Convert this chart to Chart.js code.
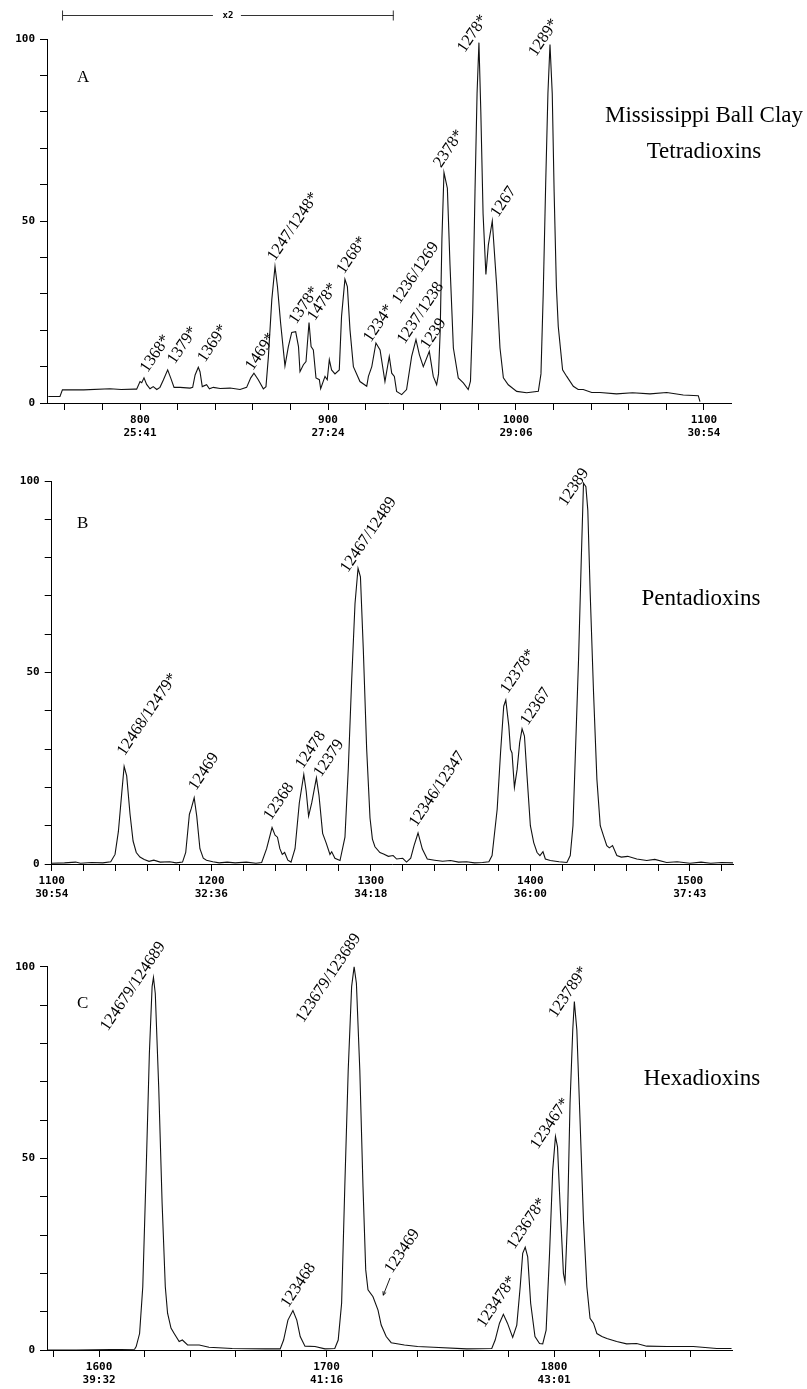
<!DOCTYPE html>
<html>
<head>
<meta charset="utf-8">
<script src="https://cdn.jsdelivr.net/npm/chart.js@4.4.1/dist/chart.umd.min.js"></script>
<style>
    body { margin: 0; background: #fff; width: 807px; height: 1389px; position: relative; overflow: hidden; }
    canvas { position: absolute; left: 0; }
    .t { position: absolute; font-family: "Liberation Serif", "Times New Roman", serif; color: #000; line-height: 1; white-space: nowrap; }
    .c { width: 400px; text-align: center; font-size: 23px; }
    .p { font-size: 17px; }
</style>
</head>
<body>

<canvas id="chartA" style="top:0px;width:807px;height:455px" width="807" height="455"></canvas>
<canvas id="chartB" style="top:455px;width:807px;height:470px" width="807" height="470"></canvas>
<canvas id="chartC" style="top:925px;width:807px;height:464px" width="807" height="464"></canvas>

<div class="t p" style="left:77px;top:67.5px">A</div>
<div class="t c" style="left:504px;top:103.4px">Mississippi Ball Clay</div>
<div class="t c" style="left:504px;top:139px">Tetradioxins</div>
<div class="t p" style="left:77px;top:514px">B</div>
<div class="t c" style="left:501px;top:585.7px">Pentadioxins</div>
<div class="t p" style="left:77px;top:994px">C</div>
<div class="t c" style="left:502px;top:1065.7px">Hexadioxins</div>

<script>
// panel A - tetradioxins (scan nr, relative intensity)
let scansA = [751.2, 757.4, 758.7, 770, 784, 790, 797, 798.2, 800, 800.9,
    802.1, 803.5, 805.3, 807, 808.9, 810.6, 812.4, 814.7, 816.3, 818.1,
    821.3, 826.6, 828, 829.3, 831, 831.9, 833.1, 835.4, 836.9, 839,
    842.6, 847.9, 853.2, 856.7, 858.9, 860.6, 862.9, 865.6, 867, 868.3,
    870.1, 871.8, 873.1, 874.8, 877.1, 878.9, 880.7, 882.8, 884.3, 885.1,
    886.9, 888.3, 889.9, 891, 892.2, 893.6, 895.4, 896.1, 898.4, 899.6,
    900.7, 901.9, 903.7, 906, 907.2, 909, 910.3, 911.7, 913.5, 917,
    920.6, 921.5, 923.3, 925.5, 927.7, 930.3, 932.6, 933.9, 935.3, 936.5,
    939.2, 941.8, 944.5, 946.8, 948.6, 950.7, 953.9, 956, 957.8, 958.8,
    959.7, 960.6, 961.7, 963.5, 964.9, 966.7, 969.3, 972, 974.6, 975.8,
    977, 978.2, 979.3, 980.3, 981.3, 982.5, 984, 985.3, 987.4, 989.7,
    991.5, 993.3, 995.9, 1000.4, 1005.7, 1011.9, 1013.3, 1014.5, 1015.8, 1017,
    1018.1, 1019.3, 1020.3, 1021.5, 1022.5, 1024.8, 1027, 1030.5, 1033.1, 1035.8,
    1040.3, 1044.7, 1053.5, 1062, 1071.3, 1080.2, 1089, 1097, 1097.9];
let intensA = [1.8, 1.8, 3.6, 3.6, 3.9, 3.7, 3.8, 3.8, 5.9, 5.6,
    6.9, 5.1, 3.9, 4.5, 3.7, 4.3, 6.3, 9.1, 6.9, 4.3,
    4.3, 4.1, 4.3, 7.7, 9.8, 8.6, 4.5, 5.0, 3.9, 4.3,
    4.0, 4.1, 3.7, 4.3, 6.9, 8.2, 6.4, 3.9, 4.5, 12.8,
    28.4, 37.5, 32, 21.9, 10.2, 15.5, 19.4, 19.6, 15.5, 8.6,
    10.5, 11.4, 22.1, 15.5, 14.6, 6.9, 6.4, 3.9, 7.3, 6.4,
    11.9, 9.1, 8, 9.1, 23.8, 34.0, 32, 20.1, 10, 5.9,
    4.6, 7.3, 10, 16.5, 14.6, 5.9, 12.8, 8.2, 7.3, 3.2,
    2.3, 3.7, 12.8, 17.4, 13.3, 10, 14.2, 7.3, 5.0, 8,
    20, 45, 63.3, 59, 38, 15.1, 6.9, 5.5, 3.7, 6,
    25, 58, 85, 99, 80, 52, 35.3, 43.4, 50, 32.5,
    15.1, 6.9, 5.0, 3.2, 2.8, 3.2, 8, 30, 60, 85,
    98.5, 85, 58, 32, 21, 9.1, 7.3, 4.6, 3.7, 3.7,
    2.9, 2.9, 2.5, 2.8, 2.5, 2.9, 2.2, 2.0, 0.4];
let labelTextA = ['1368*', '1379*', '1369*', '1469*', '1247/1248*', '1378*', '1478*', '1268*',
    '1234*', '1236/1269', '1237/1238', '1239', '2378*', '1278*', '1267', '1289*'];
let labelScanA = [804, 818.5, 834.5, 860, 871.7, 883.1, 892.9, 908.5,
    922.8, 938.1, 940.7, 953.1, 960.1, 972.8, 990.4, 1010.6];
let labelIntA = [8.2, 10.5, 11, 8.7, 38.8, 21.5, 22.4, 35.2,
    16.5, 27, 16, 14.6, 64.5, 96.1, 50.8, 95];
let majorsA = [800, 900, 1000, 1100];
let timesA = ['25:41', '27:24', '29:06', '30:54'];

// panel B - pentadioxins
let scansB = [1100, 1108, 1115, 1118, 1125, 1132, 1137, 1139.7, 1141.8, 1143.9,
    1145.4, 1147, 1149.1, 1151, 1153, 1155.3, 1158, 1161, 1164, 1168,
    1174, 1178, 1182, 1184, 1186.3, 1187.5, 1189.3, 1190.9, 1192.9, 1195,
    1197, 1201, 1205, 1210, 1215, 1222, 1228, 1231.6, 1234.7, 1238.1,
    1240, 1241.5, 1243, 1244.5, 1246, 1248, 1250, 1252.5, 1255.2, 1258,
    1259.5, 1261, 1263, 1265.9, 1267.5, 1269.8, 1272, 1274.4, 1275.5, 1277.5,
    1280.7, 1283.8, 1285.9, 1288, 1290.1, 1292, 1293.5, 1295.3, 1297.4, 1299.5,
    1301, 1302.6, 1305.7, 1308, 1311, 1314, 1316.2, 1320, 1322.4, 1325,
    1327.1, 1329.6, 1332.3, 1335.4, 1340, 1345, 1350, 1355, 1360, 1365,
    1370, 1374, 1376, 1379.2, 1381.3, 1383.3, 1384.6, 1386.5, 1387.5, 1388.5,
    1390, 1391.7, 1393.3, 1394.8, 1396.3, 1397.9, 1400, 1402.1, 1404.2, 1406,
    1407.9, 1409.4, 1412.5, 1418, 1422.9, 1425, 1426.7, 1428.1, 1430.2, 1431.9,
    1433.3, 1434.8, 1436, 1437.5, 1439.6, 1441.7, 1443.8, 1445.8, 1447.9, 1449.5,
    1451.5, 1454.2, 1457, 1461, 1466.7, 1472.9, 1478, 1485.4, 1492, 1500,
    1507, 1513, 1520, 1527];
let intensB = [0.2, 0.3, 0.5, 0.2, 0.4, 0.3, 0.6, 2.5, 8.5, 18.5,
    25.5, 23, 13, 6, 3, 1.8, 1.2, 0.7, 1.0, 0.5,
    0.6, 0.3, 0.5, 3, 13, 14.5, 17.3, 12.5, 4, 1.5,
    1.0, 0.6, 0.3, 0.5, 0.3, 0.5, 0.2, 0.4, 4, 9.5,
    7.5, 7, 4, 2.5, 3, 1, 0.5, 4, 16, 23.4,
    19, 12.5, 16, 22.5, 18, 8, 5.5, 2.5, 3.2, 1.5,
    0.9, 7, 25, 48, 68, 77.2, 75, 56, 30, 12,
    6.5, 4.5, 3, 2.6, 2.0, 2.2, 1.3, 1.5, 0.5, 1.5,
    4.8, 8.1, 3.9, 1.3, 1.0, 0.7, 0.9, 0.5, 0.6, 0.3,
    0.4, 0.6, 2.2, 14.3, 29, 41.2, 42.8, 36, 30, 29,
    20, 24.7, 31.7, 35.3, 33.4, 23, 10, 5.6, 3, 2.2,
    3.2, 1.3, 0.9, 0.6, 0.4, 2.2, 10, 27.3, 53.4, 79.4,
    99.4, 98.5, 92.4, 70.7, 44.7, 22.1, 10, 7.4, 4.8, 4.2,
    4.8, 2.2, 1.8, 2.0, 1.3, 0.9, 1.2, 0.4, 0.6, 0.2,
    0.5, 0.2, 0.4, 0.3];
let labelTextB = ['12468/12479*', '12469', '12368', '12478', '12379', '12467/12489',
    '12346/12347', '12378*', '12367', '12389'];
let labelScanB = [1145.6, 1190.4, 1237.4, 1257.3, 1268.8, 1285.6, 1328.6, 1385.9, 1398.4, 1422.3];
let labelIntB = [28.1, 19, 11.2, 24.7, 22.5, 75.9, 9.5, 44.3, 36, 93.3];
let majorsB = [1100, 1200, 1300, 1400, 1500];
let timesB = ['30:54', '32:36', '34:18', '36:00', '37:43'];

// panel C - hexadioxins
let scansC = [1577.1, 1590, 1605, 1615.6, 1616.3, 1617.8, 1619.2, 1620.7, 1622.1, 1623.3,
    1623.9, 1624.7, 1626.2, 1627.7, 1629.1, 1630.1, 1631.6, 1633, 1635.2, 1636.6,
    1638.9, 1644, 1648.3, 1658.5, 1673.1, 1679.6, 1681.1, 1683, 1685.2, 1686.9,
    1688.4, 1690.5, 1694.9, 1699.3, 1703.6, 1705.1, 1706.6, 1708, 1709.5, 1711,
    1712.1, 1713.1, 1714.6, 1716, 1717.2, 1718.2, 1720.4, 1722.6, 1724, 1726.2,
    1728.4, 1734.2, 1740, 1747, 1761.6, 1772.6, 1774.1, 1776, 1777.7, 1779.5,
    1781.8, 1783.6, 1785.1, 1786.2, 1787.3, 1788.4, 1789.7, 1791.6, 1793.6, 1795,
    1796.5, 1798, 1799.4, 1800.6, 1801.5, 1802.6, 1804.1, 1804.8, 1805.9, 1807,
    1808.2, 1808.9, 1810, 1811.4, 1812.9, 1814.4, 1815.8, 1817.3, 1818.8, 1821,
    1823.2, 1827.5, 1831.9, 1836.3, 1840.7, 1849.5, 1861.2, 1871.5, 1878];
let intensC = [0, 0, 0.1, 0.2, 0.9, 4.3, 16.5, 47, 77.4, 94.8,
    97.2, 93, 68.7, 38.3, 16.5, 9.6, 5.7, 4.3, 2.2, 2.6,
    1.3, 1.3, 0.7, 0.4, 0.3, 0.3, 2.6, 7.8, 10.3, 7.8,
    3.5, 1.0, 0.9, 0.3, 0.4, 2.6, 12.2, 42.6, 73, 94.8,
    100, 95.7, 73, 42.6, 20.9, 15.7, 13.9, 10.4, 6.5, 3.5,
    1.9, 1.3, 0.9, 0.7, 0.3, 0.4, 2.6, 7, 9.3, 7,
    3.3, 6.5, 16.5, 25.2, 26.8, 24.3, 12.2, 3.5, 1.7, 1.6,
    5.2, 25.2, 47, 55.7, 53, 38.3, 20, 17.8, 33.9, 64.3,
    83.5, 90.9, 83.5, 60, 33.9, 16.5, 8.3, 7, 4.3, 3.5,
    3, 2.2, 1.6, 1.7, 1.0, 0.9, 0.9, 0.4, 0.4];
let labelTextC = ['124679/124689', '123468', '123679/123689', '123469',
    '123478*', '123678*', '123467*', '123789*'];
let labelScanC = [1603.8, 1683.1, 1689.7, 1728.8, 1769.3, 1782.5, 1792.8, 1800.8];
let labelIntC = [83, 10.9, 85.2, 19.8, 5.7, 26.1, 52.2, 86.5];
let majorsC = [1600, 1700, 1800];
let timesC = ['39:32', '41:16', '43:01'];

// pijltje bij 123469 (van - naar)
let arrowScanC = [1727.9, 1724.9];
let arrowIntC = [18.8, 14.3];

// x2 balk boven panel A
let x2Range = [758.5, 935];

const tickFont = { family: 'DejaVu Sans Mono', size: 11, weight: 'bold', lineHeight: 1.25 };

// labels bij de pieken, schuin gezet
const peakLabels = {
    id: 'peakLabels',
    afterDatasetsDraw(chart, args, opts) {
        let ctx = chart.ctx;
        let xs = chart.scales.x, ys = chart.scales.y;
        ctx.save();
        ctx.fillStyle = '#000';
        ctx.strokeStyle = '#000';
        ctx.font = '16.5px "Liberation Serif"';
        ctx.textAlign = 'left';
        ctx.textBaseline = 'alphabetic';
        opts.texts.forEach((txt, i) => {
            let px = xs.getPixelForValue(opts.scans[i]);
            let py = ys.getPixelForValue(opts.ints[i]);
            ctx.save();
            ctx.translate(px, py);
            ctx.rotate(-56 * Math.PI / 180);
            ctx.fillText(txt, 0, 0);
            ctx.restore();
        });
        if (opts.arrow) {
            let x1 = xs.getPixelForValue(opts.arrow.scans[0]), y1 = ys.getPixelForValue(opts.arrow.ints[0]);
            let x2 = xs.getPixelForValue(opts.arrow.scans[1]), y2 = ys.getPixelForValue(opts.arrow.ints[1]);
            let a = Math.atan2(y2 - y1, x2 - x1);
            ctx.lineWidth = 0.9;
            ctx.beginPath();
            ctx.moveTo(x1, y1);
            ctx.lineTo(x2, y2);
            ctx.moveTo(x2 - 4 * Math.cos(a - 0.45), y2 - 4 * Math.sin(a - 0.45));
            ctx.lineTo(x2, y2);
            ctx.lineTo(x2 - 4 * Math.cos(a + 0.45), y2 - 4 * Math.sin(a + 0.45));
            ctx.stroke();
        }
        if (opts.bracket) {
            let b1 = xs.getPixelForValue(opts.bracket[0]);
            let b2 = xs.getPixelForValue(opts.bracket[1]);
            let mid = (b1 + b2) / 2;
            let yb = 15.5;
            ctx.lineWidth = 1;
            ctx.strokeStyle = '#333';
            ctx.beginPath();
            ctx.moveTo(b1, yb); ctx.lineTo(mid - 15, yb);
            ctx.moveTo(mid + 13, yb); ctx.lineTo(b2, yb);
            ctx.moveTo(b1 + 0.5, yb - 5); ctx.lineTo(b1 + 0.5, yb + 5);
            ctx.moveTo(b2 - 0.5, yb - 5); ctx.lineTo(b2 - 0.5, yb + 5);
            ctx.stroke();
            ctx.font = 'bold 9px "DejaVu Sans Mono"';
            ctx.textAlign = 'center';
            ctx.textBaseline = 'middle';
            ctx.fillText('x2', mid, yb);
        }
        ctx.restore();
    }
};

function makePanel(id, o) {
    let points = o.scans.map((s, i) => ({ x: s, y: o.ints[i] }));
    let xTicks = [];
    for (let v = o.firstTick; v <= o.xMax; v += 20) xTicks.push(v);
    let yTicks = [];
    for (let v = 0; v <= 100; v += 10) yTicks.push(v);

    return new Chart(document.getElementById(id), {
        type: 'line',
        data: {
            datasets: [{
                data: points,
                borderColor: '#111',
                borderWidth: 1.1,
                pointRadius: 0,
                tension: 0,
                fill: false
            }]
        },
        options: {
            responsive: false,
            animation: false,
            events: [],
            layout: { padding: { left: 0, right: o.padRight, top: o.padTop, bottom: 0 } },
            plugins: {
                legend: { display: false },
                tooltip: { enabled: false },
                peakLabels: { texts: o.labelTexts, scans: o.labelScans, ints: o.labelInts, arrow: o.arrow, bracket: o.bracket }
            },
            scales: {
                x: {
                    type: 'linear',
                    min: o.xMin,
                    max: o.xMax,
                    afterBuildTicks: axis => { axis.ticks = xTicks.map(v => ({ value: v })); },
                    afterFit: axis => { axis.height = o.xAxisHeight; },
                    ticks: {
                        autoSkip: false,
                        maxRotation: 0,
                        minRotation: 0,
                        padding: 3,
                        color: '#000',
                        font: tickFont,
                        callback: v => {
                            let k = o.majors.indexOf(v);
                            return k < 0 ? '' : [String(v), o.times[k]];
                        }
                    },
                    grid: { drawOnChartArea: false, drawTicks: true, tickLength: 7, color: '#000', lineWidth: 1 },
                    border: { display: true, color: '#000', width: 1 }
                },
                y: {
                    min: 0,
                    max: 100,
                    afterBuildTicks: axis => { axis.ticks = yTicks.map(v => ({ value: v })); },
                    afterFit: axis => { axis.width = o.yAxisWidth; },
                    ticks: {
                        autoSkip: false,
                        padding: 5,
                        color: '#000',
                        font: tickFont,
                        callback: v => (v % 50 === 0 ? String(v) : '')
                    },
                    grid: { drawOnChartArea: false, drawTicks: true, tickLength: 7, color: '#000', lineWidth: 1 },
                    border: { display: true, color: '#000', width: 1 }
                }
            }
        },
        plugins: [peakLabels]
    });
}

makePanel('chartA', {
    scans: scansA, ints: intensA,
    labelTexts: labelTextA, labelScans: labelScanA, labelInts: labelIntA,
    majors: majorsA, times: timesA,
    xMin: 750.5, xMax: 1114.4, firstTick: 760,
    yAxisWidth: 47, xAxisHeight: 52, padTop: 39, padRight: 76,
    bracket: x2Range
});

makePanel('chartB', {
    scans: scansB, ints: intensB,
    labelTexts: labelTextB, labelScans: labelScanB, labelInts: labelIntB,
    majors: majorsB, times: timesB,
    xMin: 1100, xMax: 1527, firstTick: 1100,
    yAxisWidth: 51.7, xAxisHeight: 61, padTop: 26, padRight: 74
});

makePanel('chartC', {
    scans: scansC, ints: intensC,
    labelTexts: labelTextC, labelScans: labelScanC, labelInts: labelIntC,
    majors: majorsC, times: timesC,
    xMin: 1577.1, xMax: 1878.2, firstTick: 1580,
    yAxisWidth: 47, xAxisHeight: 39, padTop: 41.7, padRight: 75,
    arrow: { scans: arrowScanC, ints: arrowIntC }
});
</script>
</body>
</html>
